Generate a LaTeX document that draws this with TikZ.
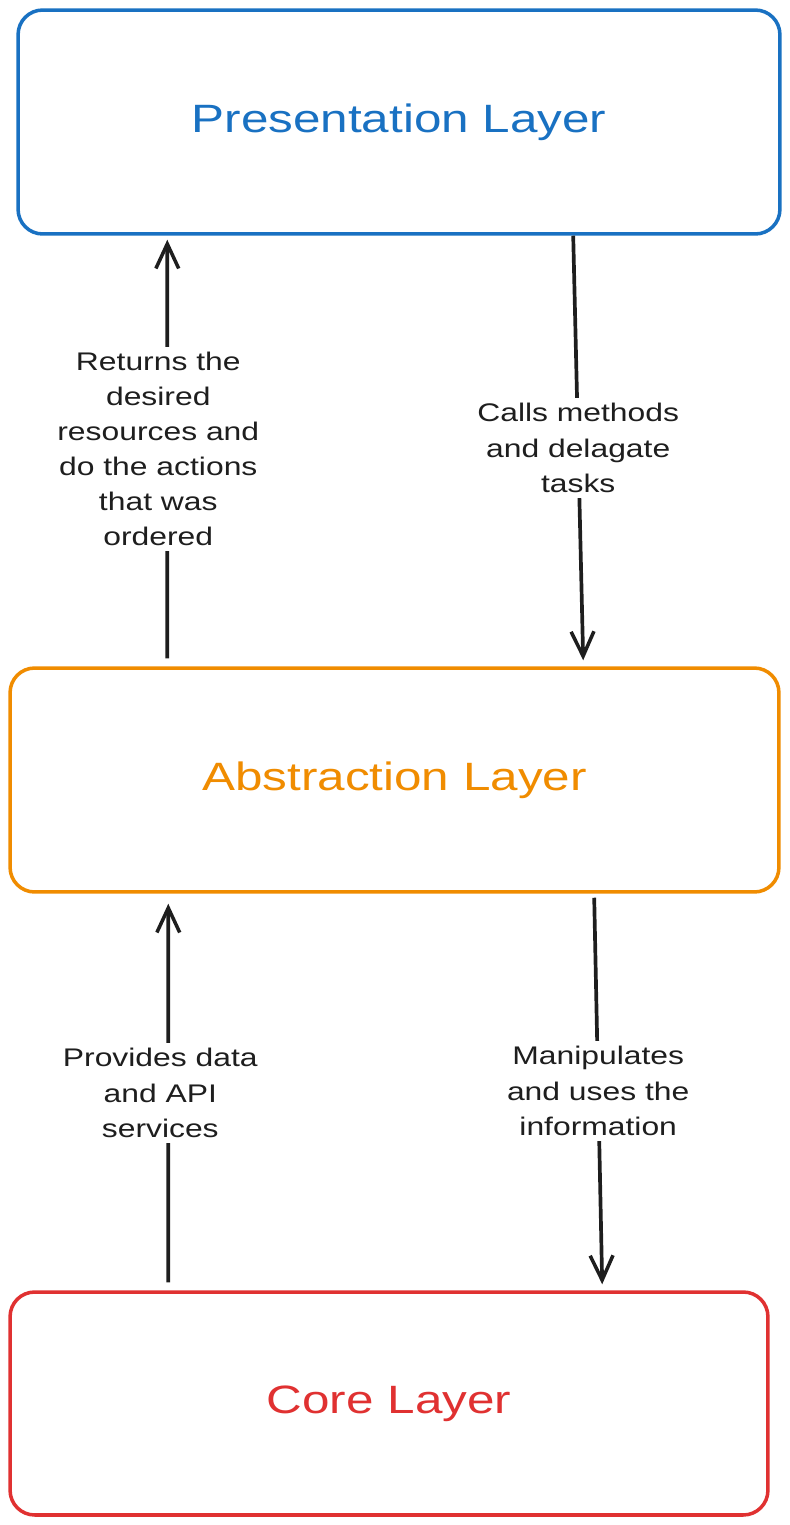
\documentclass[tikz,border=0pt]{standalone}
\usepackage{fontspec}
\setmainfont{Liberation Sans}
\newfontfamily\sketchfont[FakeStretch=1.25]{Liberation Sans}
\usepackage{xcolor}
\usetikzlibrary{arrows.meta}
\definecolor{presblue}{HTML}{1971C2}
\definecolor{absorange}{HTML}{F08C00}
\definecolor{corered}{HTML}{E03131}
\definecolor{inkdark}{HTML}{1E1E1E}
\tikzset{
  layerbox/.style={draw, line width=2pt, rounded corners=14pt, fill=white,
    inner sep=0pt, font=\sketchfont\fontsize{22.5}{26}\selectfont},
  flowarrow/.style={draw=inkdark, line width=2.1pt,
    -{Straight Barb[length=14pt,width=13pt,line width=2pt]}},
  flowlabel/.style={fill=white, text=inkdark, align=center, inner sep=3pt,
    font=\sketchfont\fontsize{14.5}{20}\selectfont}
}

\begin{document}
\begin{tikzpicture}[x=0.02cm,y=-0.02cm]
          \useasboundingbox (0,0) rectangle (790,1525);
          \node[layerbox,draw=presblue,text=presblue,minimum width=15.24cm,
            minimum height=4.48cm] (pres) at (399,122) {Presentation Layer};
          \node[layerbox,draw=absorange,text=absorange,minimum width=15.38cm,
            minimum height=4.48cm] (abs) at (394.5,780) {Abstraction Layer};
          \node[layerbox,draw=corered,text=corered,minimum width=15.16cm,
            minimum height=4.46cm] (core) at (389,1403.5) {Core Layer};
          \draw[flowarrow] ([xshift=3.18cm,yshift=0.16cm]abs.north west) --
            node[flowlabel,xshift=-0.18cm] {Returns the\\desired\\resources and\\do the actions\\that was\\ordered}
            ([xshift=3.02cm,yshift=-0.08cm]pres.south west);
          \draw[flowarrow] ([xshift=11.14cm]pres.south west) --
            node[flowlabel] {Calls methods\\and delagate\\tasks}
            ([xshift=11.5cm,yshift=0.12cm]abs.north west);
          \draw[flowarrow] ([xshift=3.2cm,yshift=0.16cm]core.north west) --
            node[flowlabel,xshift=-0.16cm] {Provides data\\and API\\services}
            ([xshift=3.2cm,yshift=-0.2cm]abs.south west);
          \draw[flowarrow] ([xshift=11.72cm,yshift=-0.08cm]abs.south west) --
            node[flowlabel] {Manipulates\\and uses the\\information}
            ([xshift=11.88cm,yshift=0.12cm]core.north west);
        \end{tikzpicture}
\end{document}
